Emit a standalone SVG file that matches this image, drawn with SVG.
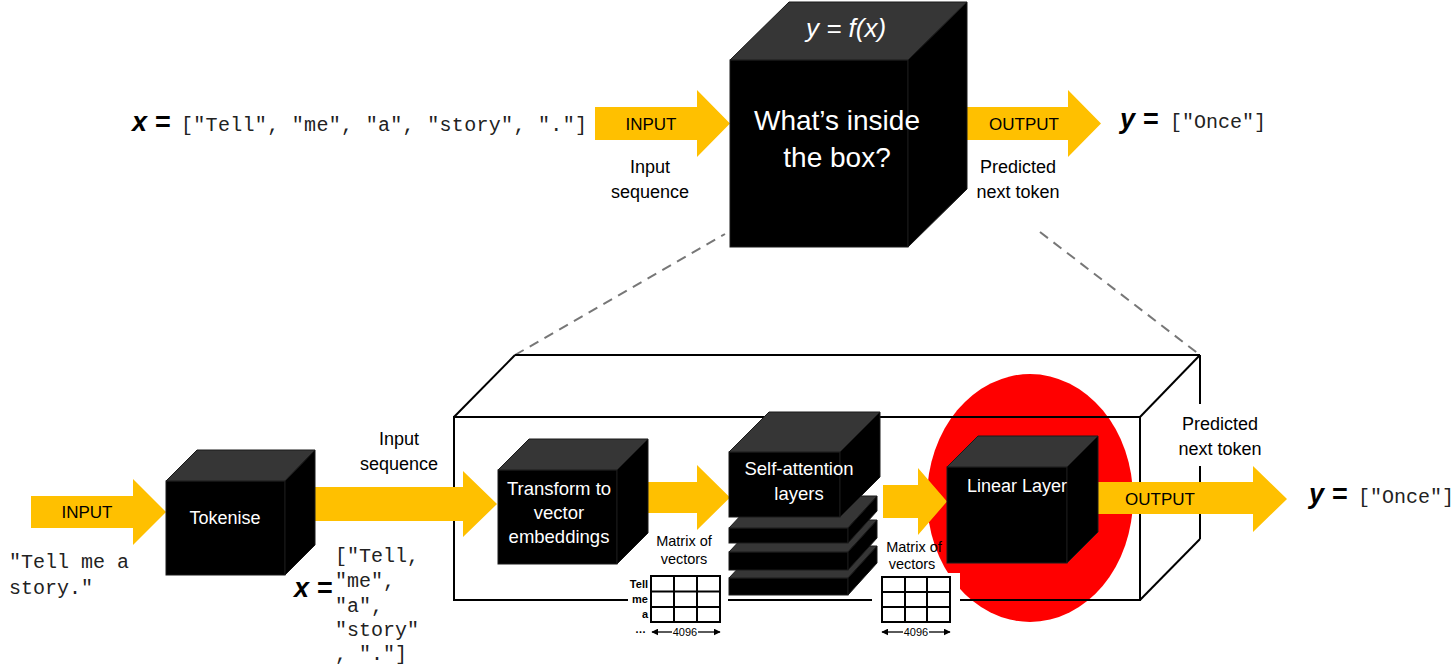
<svg xmlns="http://www.w3.org/2000/svg" width="1456" height="668" viewBox="0 0 1456 668">
<defs>
<style>
.lbl{font-family:"Liberation Sans",Arial,sans-serif;font-size:18px;fill:#000;text-anchor:middle}
.wht{font-family:"Liberation Sans",Arial,sans-serif;font-size:18px;fill:#fff;text-anchor:middle}
.big{font-family:"Liberation Sans",Arial,sans-serif;font-size:28px;fill:#fff;text-anchor:middle}
.mono{font-family:"Liberation Mono","Courier New",monospace;font-size:20px;fill:#222}
.var{font-family:"Liberation Sans",Arial,sans-serif;font-size:27px;font-style:italic;font-weight:bold;fill:#000}
.arrow{fill:#FFC000}
.front{fill:#000;stroke:#1a1a1a;stroke-width:1}
.top{fill:#363636;stroke:#1a1a1a;stroke-width:1}
.side{fill:#000;stroke:#1a1a1a;stroke-width:1}
.wire{fill:none;stroke:#000;stroke-width:2}
.dash{fill:none;stroke:#777;stroke-width:2;stroke-dasharray:10 7}
.grid{fill:#fff;stroke:#000;stroke-width:2}
.gl{stroke:#000;stroke-width:2}
.small{font-family:"Liberation Sans",Arial,sans-serif;font-size:11px;font-weight:bold;fill:#000}
.dim{font-family:"Liberation Sans",Arial,sans-serif;font-size:11px;fill:#000;text-anchor:middle}
.mat{font-family:"Liberation Sans",Arial,sans-serif;font-size:14.5px;fill:#000;text-anchor:middle}
.dl{stroke:#000;stroke-width:1.3;marker-end:url(#ah)}
</style>
<marker id="ah" viewBox="0 0 10 10" refX="9" refY="5" markerWidth="7" markerHeight="7" markerUnits="userSpaceOnUse" orient="auto">
<path d="M0,0 L10,5 L0,10 z" fill="#000"/>
</marker>
</defs>
<rect x="0" y="0" width="1456" height="668" fill="#fff"/>

<g id="zoom-lines">
<line class="dash" x1="515" y1="355" x2="725" y2="234"/>
<line class="dash" x1="1040" y1="232" x2="1200" y2="355"/>
</g>

<g id="highlight">
<ellipse cx="1030" cy="498" rx="103" ry="124" fill="#FF0000"/>
</g>

<g id="model-box">
<line class="wire" x1="515" y1="355" x2="1200" y2="355"/>
<rect class="wire" x="454" y="417" width="686" height="183"/>
<line class="wire" x1="454" y1="417" x2="515" y2="355"/>
<line class="wire" x1="1140" y1="417" x2="1200" y2="355"/>
<line class="wire" x1="1140" y1="600" x2="1200" y2="539"/>
<line class="wire" x1="1200" y1="355" x2="1200" y2="539"/>
<rect x="1172" y="404" width="96" height="62" fill="#fff"/>
<rect x="628" y="572" width="100" height="68" fill="#fff"/>
<rect x="872" y="573" width="88" height="72" fill="#fff"/>
</g>

<g id="connectors">
<polygon class="arrow" points="595,107 697,107 697,90 730,123.5 697,157 697,140 595,140"/>
<polygon class="arrow" points="966,107 1068,107 1068,90 1101,123.5 1068,157 1068,140 966,140"/>
<polygon class="arrow" points="31,496 133,496 133,479 166,512 133,545 133,528 31,528"/>
<polygon class="arrow" points="315,487 463,487 463,471 497,504 463,537 463,521 315,521"/>
<polygon class="arrow" points="648,482 697,482 697,465 730,497.5 697,530 697,513 648,513"/>
<polygon class="arrow" points="883,485 918,485 918,468 947,501.5 918,535 918,518 883,518"/>
<polygon class="arrow" points="1098,482 1253,482 1253,466 1287,499 1253,532 1253,514 1098,514"/>
</g>

<g id="black-box">
<rect class="front" x="730" y="60" width="178" height="187"/>
<polygon class="top" points="730,60 789,2 967,2 908,60"/>
<polygon class="side" points="908,60 967,2 967,189 908,247"/>
<text x="846" y="37" class="big" style="font-style:italic;font-size:26px">y = f(x)</text>
<text x="837" y="130" class="big">What’s inside</text>
<text x="837" y="167" class="big">the box?</text>
</g>

<g id="tokenise">
<rect class="front" x="166" y="481" width="119" height="94"/>
<polygon class="top" points="166,481 197,450 315,450 285,481"/>
<polygon class="side" points="285,481 315,450 315,545 285,575"/>
<text x="225" y="524" class="wht">Tokenise</text>
</g>

<g id="embeddings">
<rect class="front" x="498" y="470" width="119" height="94"/>
<polygon class="top" points="498,470 529,439 648,439 617,470"/>
<polygon class="side" points="617,470 648,439 648,533 617,564"/>
<text x="559" y="495" class="wht" style="font-size:18.5px">Transform to</text>
<text x="559" y="519" class="wht" style="font-size:18.5px">vector</text>
<text x="559" y="543" class="wht" style="font-size:18.5px">embeddings</text>
</g>

<g id="self-attention">
<rect class="front" x="729" y="578" width="119" height="17"/>
<polygon class="top" points="729,578 759,546 877,546 848,578"/>
<polygon class="side" points="848,578 877,546 877,563 848,595"/>
<rect class="front" x="729" y="552" width="119" height="18"/>
<polygon class="top" points="729,552 759,520 877,520 848,552"/>
<polygon class="side" points="848,552 877,520 877,538 848,570"/>
<rect class="front" x="729" y="528" width="119" height="15"/>
<polygon class="top" points="729,528 759,496 877,496 848,528"/>
<polygon class="side" points="848,528 877,496 877,511 848,543"/>
<rect class="front" x="729" y="452" width="111" height="65"/>
<polygon class="top" points="729,452 769,412 880,412 840,452"/>
<polygon class="side" points="840,452 880,412 880,477 840,517"/>
<text x="799" y="475" class="wht" style="font-size:18.5px">Self-attention</text>
<text x="799" y="500" class="wht" style="font-size:18.5px">layers</text>
</g>

<g id="linear-layer">
<rect class="front" x="947" y="467" width="120" height="96"/>
<polygon class="top" points="947,467 978,436 1098,436 1067,467"/>
<polygon class="side" points="1067,467 1098,436 1098,532 1067,563"/>
<text x="1017" y="492" class="wht">Linear Layer</text>
</g>

<g id="matrix-1">
<text x="684" y="546" class="mat">Matrix of</text>
<text x="684" y="564" class="mat">vectors</text>
<rect class="grid" x="651" y="576" width="69" height="46"/>
<line class="gl" x1="674" y1="576" x2="674" y2="622"/>
<line class="gl" x1="697" y1="576" x2="697" y2="622"/>
<line class="gl" x1="651" y1="591.5" x2="720" y2="591.5"/>
<line class="gl" x1="651" y1="607" x2="720" y2="607"/>
<text x="648" y="588" class="small" text-anchor="end">Tell</text>
<text x="648" y="603" class="small" text-anchor="end">me</text>
<text x="648" y="618" class="small" text-anchor="end">a</text>
<text x="646" y="633" class="small" text-anchor="end">…</text>
<text x="685" y="636" class="dim">4096</text>
<line class="dl" x1="672" y1="632" x2="652" y2="632"/>
<line class="dl" x1="698" y1="632" x2="720" y2="632"/>
</g>

<g id="matrix-2">
<text x="914" y="552" class="mat">Matrix of</text>
<text x="912" y="569" class="mat">vectors</text>
<rect class="grid" x="882" y="577" width="68" height="45"/>
<line class="gl" x1="905" y1="577" x2="905" y2="622"/>
<line class="gl" x1="927" y1="577" x2="927" y2="622"/>
<line class="gl" x1="882" y1="592" x2="950" y2="592"/>
<line class="gl" x1="882" y1="607" x2="950" y2="607"/>
<text x="916" y="636" class="dim">4096</text>
<line class="dl" x1="903" y1="632" x2="882" y2="632"/>
<line class="dl" x1="929" y1="632" x2="950" y2="632"/>
</g>

<g id="top-labels">
<text x="132" y="131" class="var">x =</text>
<text x="181" y="131" class="mono" textLength="406" lengthAdjust="spacing">["Tell", "me", "a", "story", "."]</text>
<text x="651" y="130" class="lbl" style="font-size:17px">INPUT</text>
<text x="650" y="173" class="lbl">Input</text>
<text x="650" y="198" class="lbl">sequence</text>
<text x="1024" y="130" class="lbl" style="font-size:17px">OUTPUT</text>
<text x="1018" y="173" class="lbl">Predicted</text>
<text x="1018" y="198" class="lbl">next token</text>
<text x="1120" y="128" class="var">y =</text>
<text x="1170" y="128" class="mono">["Once"]</text>
</g>

<g id="bottom-labels">
<text x="87" y="518" class="lbl" style="font-size:17px">INPUT</text>
<text x="9" y="568" class="mono">"Tell me a</text>
<text x="9" y="594" class="mono">story."</text>
<text x="399" y="445" class="lbl">Input</text>
<text x="399" y="470" class="lbl">sequence</text>
<text x="294" y="597" class="var">x =</text>
<text x="335" y="562" class="mono">["Tell,</text>
<text x="335" y="587" class="mono">"me",</text>
<text x="335" y="612" class="mono">"a",</text>
<text x="335" y="636" class="mono">"story"</text>
<text x="335" y="660" class="mono">, "."]</text>
<text x="1160" y="505" class="lbl" style="font-size:17px">OUTPUT</text>
<text x="1220" y="430" class="lbl">Predicted</text>
<text x="1220" y="455" class="lbl">next token</text>
<text x="1309" y="503" class="var">y =</text>
<text x="1358" y="503" class="mono">["Once"]</text>
</g>
</svg>
